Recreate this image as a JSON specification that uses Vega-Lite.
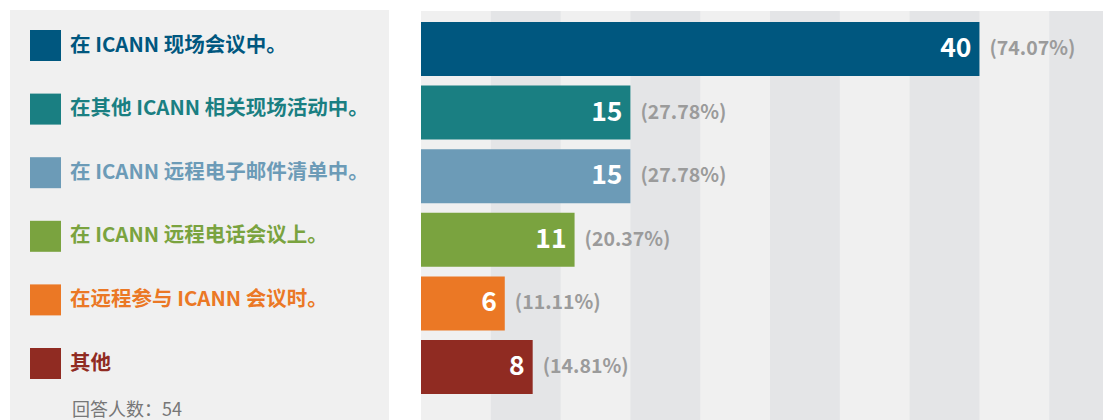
{
  "$schema": "https://vega.github.io/schema/vega-lite/v6.json",
  "width": 682,
  "height": 420,
  "padding": {"left": 10, "top": 10, "right": 0, "bottom": 0},
  "background": "white",
  "config": {
    "view": {"stroke": null, "fill": "#f0f0f0"},
    "font": "Noto Sans CJK SC"
  },
  "datasets": {
    "answers": [
      {"answer": "在 ICANN 现场会议中。", "count": 40, "pct": "(74.07%)"},
      {"answer": "在其他 ICANN 相关现场活动中。", "count": 15, "pct": "(27.78%)"},
      {"answer": "在 ICANN 远程电子邮件清单中。", "count": 15, "pct": "(27.78%)"},
      {"answer": "在 ICANN 远程电话会议上。", "count": 11, "pct": "(20.37%)"},
      {"answer": "在远程参与 ICANN 会议时。", "count": 6, "pct": "(11.11%)"},
      {"answer": "其他", "count": 8, "pct": "(14.81%)"}
    ],
    "stripes": [
      {"from": 5, "to": 10},
      {"from": 15, "to": 20},
      {"from": 25, "to": 30},
      {"from": 35, "to": 40},
      {"from": 45, "to": 50}
    ]
  },
  "data": {"name": "answers"},
  "layer": [
    {
      "data": {"name": "stripes"},
      "mark": {"type": "rect", "color": "#e4e5e7", "clip": true},
      "encoding": {
        "x": {"field": "from", "type": "quantitative", "scale": {"domain": [0, 48.85], "nice": false, "zero": false}, "axis": null},
        "x2": {"field": "to"}
      }
    },
    {
      "mark": {"type": "bar"},
      "encoding": {
        "y": {"field": "answer", "type": "nominal", "sort": null, "axis": null,
              "scale": {"paddingInner": 0.151, "paddingOuter": 0.3774, "align": 0.229}},
        "x": {"field": "count", "type": "quantitative", "axis": null},
        "color": {
          "field": "answer", "type": "nominal",
          "scale": {
            "domain": ["在 ICANN 现场会议中。", "在其他 ICANN 相关现场活动中。", "在 ICANN 远程电子邮件清单中。", "在 ICANN 远程电话会议上。", "在远程参与 ICANN 会议时。", "其他"],
            "range": ["#00577f", "#1a7f82", "#6c9bb7", "#7aa33f", "#eb7825", "#902b22"]
          },
          "legend": {
            "orient": "none",
            "legendX": -411,
            "legendY": -1,
            "title": "回答人数：54",
            "titleOrient": "bottom",
            "titleAnchor": "start",
            "titleFont": "Noto Sans CJK SC",
            "titleFontSize": 18,
            "titleFontWeight": "normal",
            "titleColor": "#777777",
            "titlePadding": 23,
            "fillColor": "#f0f0f0",
            "padding": 20,
            "symbolType": "square",
            "symbolSize": 961,
            "symbolStrokeWidth": 0,
            "symbolOpacity": 1,
            "labelFont": "Noto Sans CJK SC",
            "labelFontSize": 20.5,
            "labelFontWeight": "bold",
            "labelOffset": 9,
            "labelLimit": 400,
            "labelColor": {"expr": "scale('color', datum.value)"},
            "rowPadding": 32.6,
            "encoding": {"title": {"dx": {"value": 42}}, "entries": {"dy": {"value": 1.5}}}
          }
        }
      }
    },
    {
      "mark": {"type": "text", "align": "right", "baseline": "middle", "dx": -8, "color": "white", "fontSize": 26.5, "fontWeight": "bold", "font": "Noto Sans CJK SC"},
      "encoding": {
        "y": {"field": "answer", "type": "nominal", "sort": null},
        "x": {"field": "count", "type": "quantitative"},
        "text": {"field": "count"}
      }
    },
    {
      "mark": {"type": "text", "align": "left", "baseline": "middle", "dx": 10, "color": "#9b9b9b", "fontSize": 19.5, "fontWeight": "bold", "font": "Noto Sans CJK SC"},
      "encoding": {
        "y": {"field": "answer", "type": "nominal", "sort": null},
        "x": {"field": "count", "type": "quantitative"},
        "text": {"field": "pct"}
      }
    }
  ]
}
